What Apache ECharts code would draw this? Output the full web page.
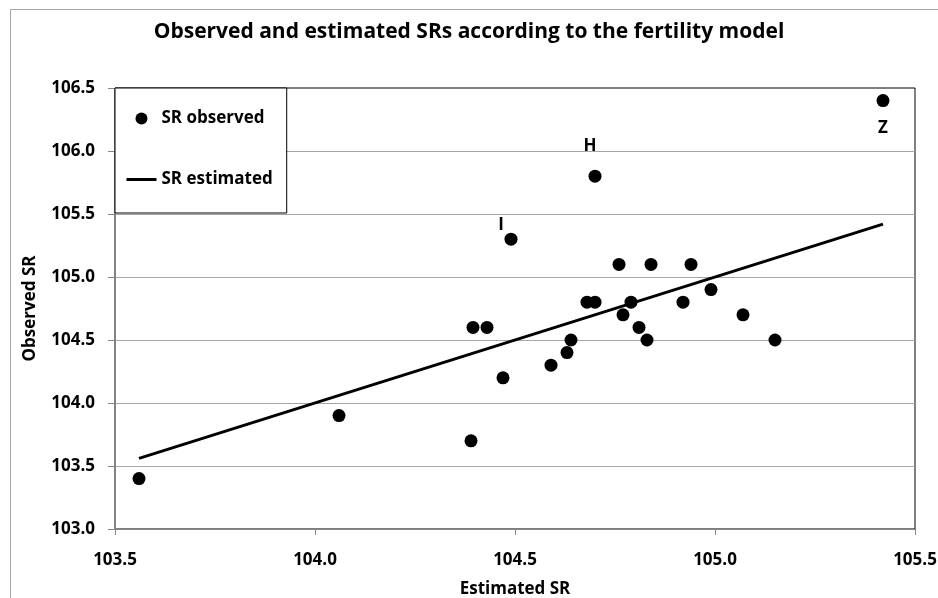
<!DOCTYPE html>
<html>
<head>
<meta charset="utf-8">
<script src="https://cdn.jsdelivr.net/npm/echarts@6/dist/echarts.min.js"></script>
<style>
	html, body { margin: 0; padding: 0; background: #fff; }
	#chart { width: 938px; height: 598px; }
</style>
</head>
<body>
<div id="chart"></div>
<script>
	'use strict'
	/*--data--*/
	var estimatedSR = [103.56, 104.06, 104.39, 104.395, 104.43, 104.47, 104.49, 104.59, 104.63, 104.64,
		104.68, 104.70, 104.70, 104.76, 104.77, 104.79, 104.81, 104.83, 104.84, 104.92,
		104.94, 104.99, 105.07, 105.15, 105.42];
	var observedSR = [103.4, 103.9, 103.7, 104.6, 104.6, 104.2, 105.3, 104.3, 104.4, 104.5,
		104.8, 104.8, 105.8, 105.1, 104.7, 104.8, 104.6, 104.5, 105.1, 104.8,
		105.1, 104.9, 104.7, 104.5, 106.4];
	var pointLabels = ['', '', '', '', '', '', 'I', '', '', '',
		'', '', 'H', '', '', '', '', '', '', '',
		'', '', '', '', 'Z'];
	var estimatedLine = [103.56, 105.42];
	var xTicks = [103.5, 104.0, 104.5, 105.0, 105.5];
	var yTicks = [103.0, 103.5, 104.0, 104.5, 105.0, 105.5, 106.0, 106.5];

	var font = '"Open Sans", "Liberation Sans", sans-serif';
	var labelOffsets = { 'H': [-5, -30], 'I': [-10, -14], 'Z': [0, 28] };

	var observedData = estimatedSR.map(function(x, i) {
		var item = { value: [x, observedSR[i]], name: pointLabels[i] };
		if (pointLabels[i]) {
			item.label = {
				show: true,
				position: 'inside',
				offset: labelOffsets[pointLabels[i]],
				formatter: pointLabels[i],
				color: '#000',
				fontFamily: font,
				fontWeight: 'bold',
				fontSize: 17
			};
		}
		return item;
	});
	var lineData = estimatedLine.map(function(v) { return [v, v]; });

	var chart = echarts.init(document.getElementById('chart'));
	var option = {
		animation: false,
		backgroundColor: '#fff',
		title: {
			text: 'Observed and estimated SRs according to the fertility model',
			left: 'center',
			top: 17,
			textStyle: {
				fontFamily: font,
				fontWeight: 'bold',
				fontSize: 21,
				color: '#000'
			}
		},
		graphic: [{
			type: 'rect',
			left: 8,
			top: 7,
			shape: { width: 1000, height: 1000 },
			style: { fill: 'none', stroke: '#a6a6a6', lineWidth: 1 },
			silent: true
		}],
		legend: {
			orient: 'vertical',
			left: 115,
			top: 88,
			padding: [22, 14, 25, 10],
			itemGap: 44,
			itemWidth: 30,
			itemHeight: 12,
			backgroundColor: '#fff',
			borderColor: '#000',
			borderWidth: 1,
			textStyle: {
				fontFamily: font,
				fontWeight: 'bold',
				fontSize: 17,
				color: '#000'
			},
			data: [
				{ name: 'SR observed', icon: 'circle', itemStyle: { color: '#000', opacity: 1 } },
				{ name: 'SR estimated', itemStyle: { opacity: 0 }, lineStyle: { color: '#000', width: 3 } }
			]
		},
		grid: {
			left: 115,
			right: 23,
			top: 88,
			bottom: 69,
			containLabel: false,
			outerBoundsMode: 'none',
			show: true,
			borderColor: '#000',
			borderWidth: 1
		},
		xAxis: {
			type: 'value',
			min: xTicks[0],
			max: xTicks[xTicks.length - 1],
			interval: 0.5,
			name: 'Estimated SR',
			nameLocation: 'middle',
			nameGap: 52,
			nameTextStyle: { fontFamily: font, fontWeight: 'bold', fontSize: 17, color: '#000' },
			axisLine: { lineStyle: { color: '#868686', width: 1 } },
			axisTick: { show: true, length: 6, lineStyle: { color: '#868686' } },
			axisLabel: {
				margin: 23,
				fontFamily: font,
				fontWeight: 'bold',
				fontSize: 17,
				color: '#000',
				formatter: function(v) { return v.toFixed(1); }
			},
			splitLine: { show: false }
		},
		yAxis: {
			type: 'value',
			min: yTicks[0],
			max: yTicks[yTicks.length - 1],
			interval: 0.5,
			name: 'Observed SR',
			nameLocation: 'middle',
			nameGap: 76,
			nameTextStyle: { fontFamily: font, fontWeight: 'bold', fontSize: 17, color: '#000' },
			axisLine: { show: true, lineStyle: { color: '#868686', width: 1 } },
			axisTick: { show: true, length: 7, lineStyle: { color: '#868686' } },
			axisLabel: {
				margin: 20,
				fontFamily: font,
				fontWeight: 'bold',
				fontSize: 17,
				color: '#000',
				formatter: function(v) { return v.toFixed(1); }
			},
			splitLine: { show: true, showMaxLine: false, lineStyle: { color: '#a6a6a6', width: 1 } }
		},
		series: [{
			name: 'SR observed',
			type: 'scatter',
			symbol: 'circle',
			symbolSize: 13,
			itemStyle: { color: '#000', opacity: 1 },
			data: observedData,
			z: 3
		}, {
			name: 'SR estimated',
			type: 'line',
			symbol: 'none',
			lineStyle: { color: '#000', width: 3 },
			itemStyle: { color: '#000' },
			data: lineData,
			z: 2
		}]
	};
	chart.setOption(option);
</script>
</body>
</html>
